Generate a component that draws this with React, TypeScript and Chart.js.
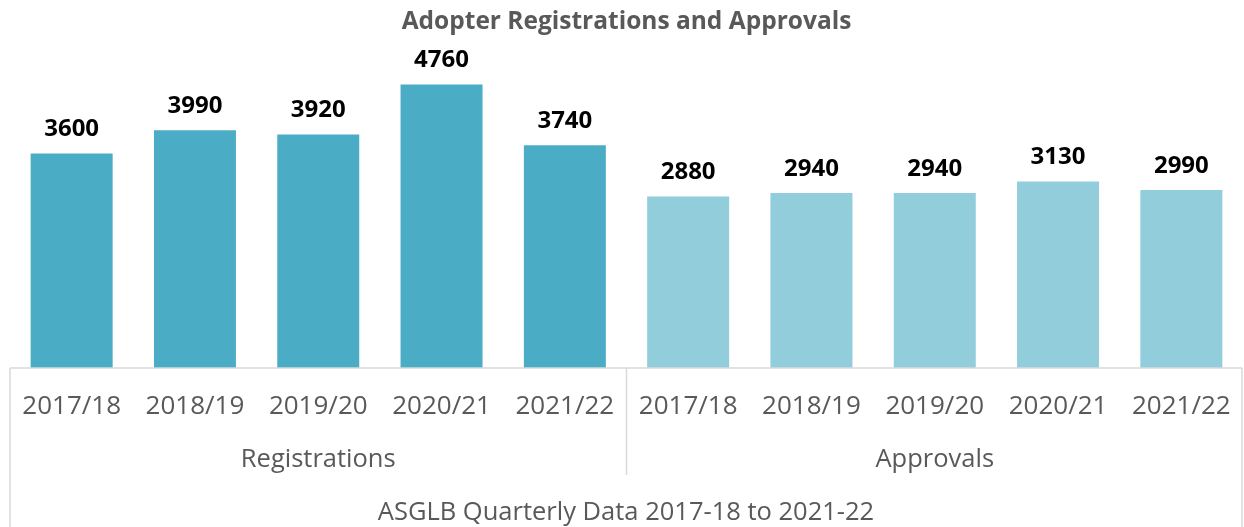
import React, { useEffect, useRef } from "react";
import { Chart, registerables } from "chart.js";

Chart.register(...registerables);

const years = ["2017/18", "2018/19", "2019/20", "2020/21", "2021/22"];
const groups = ["Registrations", "Approvals"];
const registrations = [3600, 3990, 3920, 4760, 3740];
const approvals = [2880, 2940, 2940, 3130, 2990];
const chartTitle = "Adopter Registrations and Approvals";
const axisTitle = "ASGLB Quarterly Data 2017-18 to 2021-22";

const REG_COLOR = "#4BACC6";
const APP_COLOR = "#92CDDC";
const TEXT = "#595959";
const GRID = "#D9D9D9";
const FONT = "'Open Sans', sans-serif";

const labels = [...years, ...years];
const values = [...registrations, ...approvals];
const colors = [...registrations.map(() => REG_COLOR), ...approvals.map(() => APP_COLOR)];

const overlayPlugin = {
  id: "overlay",
  afterDraw(chart: any) {
    const ctx = chart.ctx;
    const area = chart.chartArea;
    const x = chart.scales.x;
    const bottom = chart.height;
    const meta = chart.getDatasetMeta(0);
    ctx.save();
    // data labels
    ctx.fillStyle = "#000000";
    ctx.font = `bold 24px ${FONT}`;
    ctx.textAlign = "center";
    ctx.textBaseline = "middle";
    meta.data.forEach((bar: any, i: number) => {
      ctx.fillText(String(values[i]), bar.x, bar.y - 24);
    });
    // axis box lines
    ctx.strokeStyle = GRID;
    ctx.lineWidth = 1.5;
    const left = area.left;
    const right = area.right - 1;
    const mid = (x.getPixelForValue(years.length - 1) + x.getPixelForValue(years.length)) / 2;
    ctx.beginPath();
    ctx.moveTo(left, area.bottom);
    ctx.lineTo(right, area.bottom);
    ctx.moveTo(left, area.bottom);
    ctx.lineTo(left, bottom);
    ctx.moveTo(right, area.bottom);
    ctx.lineTo(right, bottom);
    ctx.moveTo(mid, area.bottom);
    ctx.lineTo(mid, area.bottom + 107);
    ctx.stroke();
    // group labels
    ctx.fillStyle = TEXT;
    ctx.font = `25.5px ${FONT}`;
    const g1 = (x.getPixelForValue(0) + x.getPixelForValue(years.length - 1)) / 2;
    const g2 = (x.getPixelForValue(years.length) + x.getPixelForValue(labels.length - 1)) / 2;
    ctx.fillText(groups[0], g1, area.bottom + 92);
    ctx.fillText(groups[1], g2, area.bottom + 92);
    // axis title
    ctx.fillText(axisTitle, (left + right) / 2, area.bottom + 145);
    ctx.restore();
  },
};

export default function App() {
  const ref = useRef<HTMLCanvasElement | null>(null);
  useEffect(() => {
    if (!ref.current) return;
    const chart = new Chart(ref.current, {
      type: "bar",
      data: {
        labels,
        datasets: [
          {
            data: values,
            backgroundColor: colors,
            borderWidth: 0,
            barPercentage: 0.665,
            categoryPercentage: 1,
          },
        ],
      },
      options: {
        animation: false,
        responsive: true,
        maintainAspectRatio: false,
        layout: { padding: { left: 10, right: 1, top: 0, bottom: 0 } },
        plugins: {
          legend: { display: false },
          tooltip: { enabled: false },
          title: {
            display: true,
            text: chartTitle,
            color: TEXT,
            font: { family: FONT, size: 24.5, weight: "bold" },
            padding: { top: 7, bottom: 4 },
          },
        },
        scales: {
          x: {
            grid: { display: false, drawTicks: false },
            border: { display: false },
            ticks: {
              color: TEXT,
              font: { family: FONT, size: 26 },
              padding: 23,
              maxRotation: 0,
              autoSkip: false,
            },
            afterFit: (scale: any) => {
              scale.height = 159;
              scale.paddingLeft = 0;
              scale.paddingRight = 0;
            },
          },
          y: {
            display: false,
            min: 0,
            max: 5500,
          },
        },
      },
      plugins: [overlayPlugin],
    });
    return () => chart.destroy();
  }, []);
  return (
    <div style={{ position: "absolute", left: 0, top: 0, width: 1244, height: 527, background: "#fff" }}>
      <canvas ref={ref} />
    </div>
  );
}
